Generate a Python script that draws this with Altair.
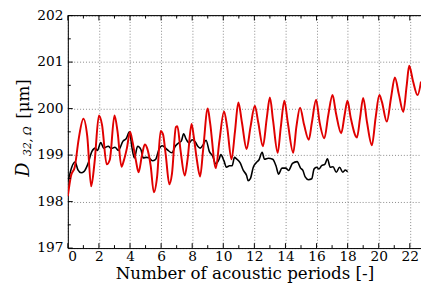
import altair as alt
import pandas as pd

red_x = [0.0, 0.2, 0.45, 0.7, 1.0, 1.25, 1.5, 1.72, 2.0, 2.2, 2.5, 2.7, 3.0, 3.2, 3.45, 3.6, 3.8, 4.0,
         4.17, 4.38, 4.55, 4.76, 4.95, 5.1, 5.33, 5.53, 5.75, 5.97, 6.12, 6.3, 6.53, 6.7, 6.95, 7.05,
         7.25, 7.52, 7.7, 7.96, 8.1, 8.3, 8.51, 8.7, 9.0, 9.15, 9.52, 9.75, 10.05, 10.25, 10.53, 10.75,
         10.97, 11.2, 11.5, 11.75, 12.03, 12.25, 12.55, 12.8, 13.0, 13.2, 13.5, 13.7, 13.93, 14.15, 14.5,
         14.7, 14.94, 15.2, 15.5, 15.7, 15.97, 16.2, 16.5, 16.75, 17.03, 17.25, 17.59, 17.8, 17.99, 18.2,
         18.6, 18.8, 19.0, 19.25, 19.56, 19.8, 20.04, 20.2, 20.52, 20.8, 21.04, 21.3, 21.58, 21.8, 21.96,
         22.2, 22.5, 22.72]
red_y = [198.12, 198.55, 198.75, 199.35, 199.78, 199.4, 198.33, 198.85, 199.85, 199.65, 198.8, 198.9,
         199.85, 199.5, 198.75, 198.88, 199.15, 199.5, 199.27, 198.88, 198.63, 198.98, 199.23, 199.15,
         198.77, 198.2, 198.56, 199.52, 199.45, 199.0, 198.37, 198.6, 199.6, 199.62, 199.1, 198.56, 198.9,
         199.67, 199.4, 198.9, 198.54, 199.1, 200.0, 199.7, 198.72, 199.3, 199.94, 199.6, 198.91, 199.5,
         200.13, 199.7, 199.13, 199.6, 200.06, 199.7, 199.19, 199.8, 200.24, 199.75, 199.05, 199.6, 200.17,
         199.7, 199.05, 199.6, 200.02, 199.65, 199.33, 199.7, 200.19, 199.7, 199.36, 199.85, 200.29, 199.9,
         199.47, 199.85, 200.17, 199.8, 199.38, 199.8, 200.23, 199.7, 199.21, 199.8, 200.29, 200.15, 199.72,
         200.25, 200.67, 200.3, 199.93, 200.5, 200.92, 200.6, 200.29, 200.58]

black_x = [0.03, 0.25, 0.47, 0.65, 0.85, 1.05, 1.28, 1.55, 1.77, 1.9, 2.12, 2.3, 2.6, 2.8, 3.03, 3.25,
           3.55, 3.75, 3.97, 4.13, 4.28, 4.49, 4.7, 4.85, 5.05, 5.22, 5.43, 5.65, 5.86, 6.07, 6.38, 6.7,
           6.91, 7.12, 7.3, 7.45, 7.6, 7.8, 8.0, 8.2, 8.36, 8.51, 8.7, 8.89, 9.1, 9.31, 9.52, 9.73, 9.84,
           10.04, 10.2, 10.4, 10.57, 10.72, 10.85, 11.08, 11.29, 11.5, 11.6, 11.75, 11.93, 12.13, 12.3, 12.5,
           12.65, 12.9, 13.18, 13.39, 13.56, 13.77, 14.02, 14.2, 14.45, 14.75, 14.97, 15.12, 15.27, 15.48,
           15.69, 15.84, 16.0, 16.15, 16.32, 16.53, 16.7, 16.88, 17.06, 17.27, 17.48, 17.69, 17.85, 18.0]
black_y = [198.45, 198.74, 198.85, 198.68, 198.62, 198.65, 198.8, 199.08, 199.15, 199.1, 199.27, 199.15,
           199.19, 199.14, 199.17, 199.1, 199.3, 199.35, 199.5, 199.15, 198.94, 199.19, 199.12, 198.94,
           198.95, 198.94, 198.88, 198.91, 199.12, 199.2, 199.12, 199.05, 199.19, 199.26, 199.3, 199.46,
           199.35, 199.26, 199.33, 199.28, 199.19, 199.15, 199.22, 199.32, 199.08, 198.98, 198.81, 198.91,
           199.01, 198.88, 198.74, 198.77, 198.77, 198.95, 198.92, 198.84, 198.67, 198.56, 198.45, 198.5,
           198.74, 198.84, 198.9, 199.06, 198.91, 198.93, 198.91, 198.77, 198.59, 198.72, 198.72, 198.67,
           198.82, 198.86, 198.72, 198.67, 198.53, 198.47, 198.49, 198.7, 198.74, 198.7, 198.77, 198.8,
           198.92, 198.74, 198.75, 198.63, 198.74, 198.63, 198.68, 198.64]

x_major = [0, 2, 4, 6, 8, 10, 12, 14, 16, 18, 20, 22]
x_minor = [1, 3, 5, 7, 9, 11, 13, 15, 17, 19, 21]
y_major = [197, 198, 199, 200, 201, 202]
y_minor = [197.5, 198.5, 199.5, 200.5, 201.5]

W, H = 360, 237
XMAX = 22.72
FONT = "DejaVu Serif"

xs = alt.Scale(domain=[0, XMAX], nice=False, zero=False)
ys = alt.Scale(domain=[197, 202], nice=False, zero=False)

red = pd.DataFrame({"x": red_x, "y": red_y})
black = pd.DataFrame({"x": black_x, "y": black_y})

X_AXIS = alt.Axis(
    values=x_major, title="Number of acoustic periods [-]", format="d",
    ticks=False, labelPadding=2, titlePadding=2, grid=True,
    gridColor="#888888", gridDash=[1, 2], gridWidth=1, domainColor="black")
Y_AXIS = alt.Axis(
    values=y_major, title="", format="d", ticks=False, labelPadding=5, grid=True,
    gridColor="#888888", gridDash=[1, 2], gridWidth=1, domainColor="black")

def ex():
    return alt.X("x:Q", scale=xs, axis=X_AXIS)

def ey():
    return alt.Y("y:Q", scale=ys, axis=Y_AXIS)

black_line = alt.Chart(black).mark_line(color="black", strokeWidth=1.6, interpolate="monotone",
                                        clip=True).encode(x=ex(), y=ey())
red_line = alt.Chart(red).mark_line(color="#e00000", strokeWidth=2, interpolate="monotone",
                                    clip=True).encode(x=ex(), y=ey())

def xticks(vals, y0, y1):
    return alt.Chart(pd.DataFrame({"x": vals})).mark_rule(color="black", strokeWidth=1).encode(
        x=ex(), y=alt.value(y0), y2=alt.value(y1))

def yticks(vals, x0, x1):
    return alt.Chart(pd.DataFrame({"y": vals})).mark_rule(color="black", strokeWidth=1).encode(
        y=ey(), x=alt.value(x0), x2=alt.value(x1))

top_border = alt.Chart(pd.DataFrame({"y": [202]})).mark_rule(color="black", strokeWidth=1).encode(
    y=ey(), x=alt.value(0), x2=alt.value(W))

ticks = [
    xticks(x_major, H, H - 5), xticks(x_minor, H, H - 3),
    xticks(x_major, 0, 5), xticks(x_minor, 0, 3),
    yticks(y_major, 0, 5), yticks(y_minor, 0, 3),
]

def label(txt, x, y, size, style="normal"):
    return alt.Chart(pd.DataFrame({"t": [txt]})).mark_text(
        angle=270, font=FONT, fontSize=size, fontStyle=style, color="black",
        align="center", baseline="middle").encode(text="t:N", x=alt.value(x), y=alt.value(y))

ylabel = [
    label("D", -45, 157, 18, "italic"),
    label("32, Ω", -41, 128, 11, "italic"),
    label("[μm]", -45, 85, 17),
]

chart = alt.layer(black_line, red_line, top_border, *ticks, *ylabel).properties(
    width=W, height=H,
    autosize=alt.AutoSizeParams(type="none"),
    padding={"left": 61, "top": 5, "right": 0, "bottom": 40},
).configure_view(stroke=None).configure(background="white").configure_axis(
    labelFont=FONT, labelFontSize=14, labelColor="black",
    titleFont=FONT, titleFontSize=17, titleFontWeight="normal", titleColor="black")

chart.save("out.html", embed_options={"renderer": "svg", "actions": False})
